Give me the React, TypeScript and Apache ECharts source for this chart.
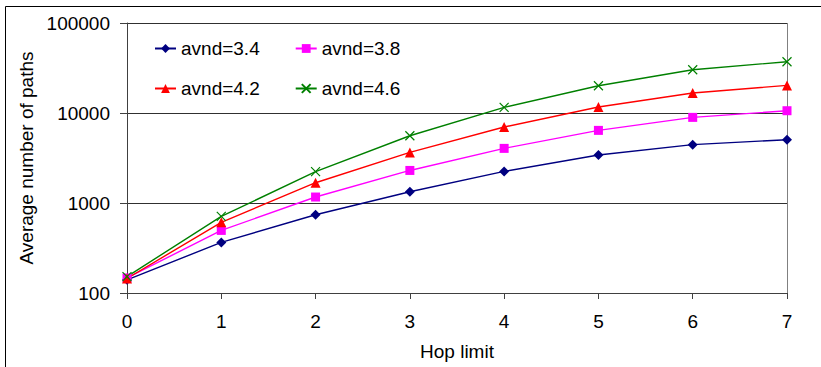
import React, { useEffect, useRef } from "react";
import * as echarts from "echarts";

const hops = [0, 1, 2, 3, 4, 5, 6, 7];
const avnd34 = [140, 365, 740, 1335, 2245, 3410, 4450, 5050];
const avnd38 = [147, 496, 1165, 2300, 4045, 6410, 8940, 10600];
const avnd42 = [145, 610, 1680, 3650, 6985, 11660, 16680, 20270];
const avnd46 = [152, 710, 2230, 5590, 11540, 20100, 30260, 37150];
const yTicks = [100, 1000, 10000, 100000];

const FONT = "Liberation Sans, Arial, sans-serif";
const FS = 19;

export default function App() {
  const ref = useRef<HTMLDivElement>(null);
  useEffect(() => {
    document.body.style.margin = "0";
    if (!ref.current) return;
    const chart = echarts.init(ref.current, undefined, { renderer: "svg" });
    const pairs = (vals: number[]) => hops.map((h, i) => [h, vals[i]]);
    const mk = (name: string, vals: number[], color: string, symbol: string, size: number, cross = false) => ({
      name,
      type: "line",
      data: pairs(vals),
      symbol,
      symbolSize: size,
      showSymbol: true,
      lineStyle: { color, width: 1.4 },
      itemStyle: cross
        ? { color: "rgba(0,0,0,0)", borderColor: color, borderWidth: 1.2 }
        : { color, borderColor: color, borderWidth: 0 },
      emphasis: { disabled: true },
      z: 3,
    });
    const crossPath = "path://M0,0L10,10M10,0L0,10";
    const legendText = { fontFamily: FONT, fontSize: FS, color: "#000" };
    chart.setOption({
      animation: false,
      textStyle: { fontFamily: FONT },
      grid: { left: 127, right: 34, top: 23, bottom: 74 },
      graphic: [
        {
          type: "rect",
          shape: { x: 5.5, y: 6.5, width: 900, height: 500 },
          style: { fill: "none", stroke: "#000", lineWidth: 1 },
          silent: true,
        },
        {
          type: "line",
          shape: { x1: 787.5, y1: 23, x2: 787.5, y2: 293 },
          style: { stroke: "#808080", lineWidth: 1 },
          silent: true,
        },
      ],
      legend: [
        {
          data: ["avnd=3.4", "avnd=3.8"],
          left: 149,
          top: 34,
          itemWidth: 21,
          itemHeight: 11,
          itemGap: 35,
          textStyle: legendText,
          selectedMode: false,
        },
        {
          data: ["avnd=4.2", "avnd=4.6"],
          left: 149,
          top: 74,
          itemWidth: 21,
          itemHeight: 11,
          itemGap: 35,
          textStyle: legendText,
          selectedMode: false,
        },
      ],
      xAxis: {
        type: "value",
        min: 0,
        max: 7,
        interval: 1,
        name: "Hop limit",
        nameLocation: "middle",
        nameGap: 49,
        nameTextStyle: { fontFamily: FONT, fontSize: FS, color: "#000" },
        axisLine: { show: true, lineStyle: { color: "#404040", width: 1 } },
        axisTick: { show: true, length: 6, lineStyle: { color: "#404040" } },
        axisLabel: { margin: 19, fontFamily: FONT, fontSize: FS, color: "#000" },
        splitLine: { show: false },
      },
      yAxis: {
        type: "log",
        logBase: 10,
        min: yTicks[0],
        max: yTicks[yTicks.length - 1],
        name: "Average number of paths",
        nameLocation: "middle",
        nameGap: 90,
        nameTextStyle: { fontFamily: FONT, fontSize: FS, color: "#000" },
        axisLine: { show: true, lineStyle: { color: "#404040", width: 1 } },
        axisTick: { show: true, length: 7, lineStyle: { color: "#404040" } },
        minorTick: { show: false },
        axisLabel: {
          margin: 17,
          fontFamily: FONT,
          fontSize: FS,
          color: "#000",
          formatter: (v: number) => String(Math.round(v)),
        },
        splitLine: { show: true, lineStyle: { color: "#303030", width: 1 } },
      },
      series: [
        mk("avnd=3.4", avnd34, "#000080", "diamond", 10),
        mk("avnd=3.8", avnd38, "#FF00FF", "rect", 9),
        mk("avnd=4.2", avnd42, "#FF0000", "triangle", 10),
        mk("avnd=4.6", avnd46, "#008000", crossPath, 9, true),
      ],
    });
    return () => chart.dispose();
  }, []);
  return <div ref={ref} style={{ width: 821, height: 367 }} />;
}
